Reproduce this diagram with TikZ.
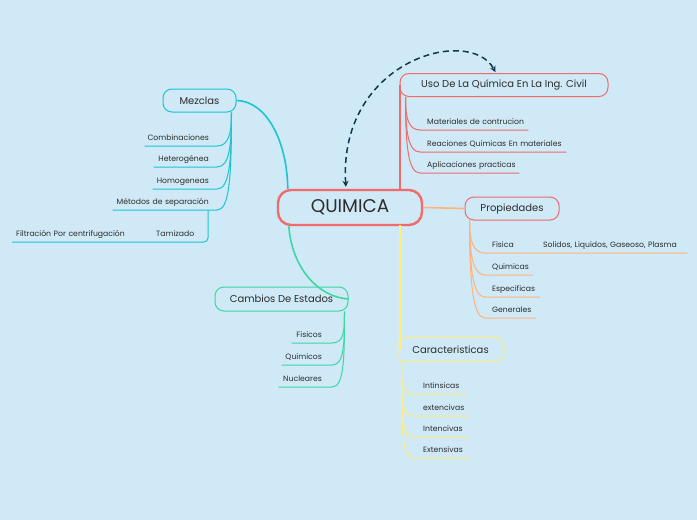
\documentclass[tikz,border=0pt]{standalone}
\usepackage{fontspec}
\setmainfont{Poppins}
\usetikzlibrary{arrows.meta}
\definecolor{bg}{RGB}{207,233,246}
\definecolor{cred}{RGB}{242,107,107}
\definecolor{ccyan}{RGB}{30,196,210}
\definecolor{cgreen}{RGB}{62,214,163}
\definecolor{corange}{RGB}{255,178,122}
\definecolor{cyellow}{RGB}{255,238,125}
\definecolor{navy}{RGB}{16,56,78}
\definecolor{ink}{RGB}{45,45,45}
\begin{document}
\begin{tikzpicture}[x=1pt,y=1pt,
 topic/.style={draw,line width=1pt,rounded corners=9pt,fill=bg,minimum height=23pt,inner sep=0pt,text=ink,font=\fontsize{10}{12}\selectfont},
 central/.style={draw=cred,line width=2.4pt,rounded corners=13pt,fill=bg,minimum width=144pt,minimum height=35pt,text=ink,font=\fontsize{18.4}{20}\selectfont},
 leafr/.style={anchor=south west,inner xsep=0pt,inner ysep=3.5pt,text depth=2pt,text height=5.5pt,align=left,text width=#1,text=ink,font=\fontsize{7.7}{9}\selectfont},
 leafl/.style={anchor=south east,inner xsep=0pt,inner ysep=3.5pt,text depth=2pt,text height=5.5pt,align=right,text width=#1,text=ink,font=\fontsize{7.7}{9}\selectfont},
 branch/.style={line width=1pt},
 mainline/.style={line width=1.6pt},
 goright/.style={to path={.. controls +(0,-#1) and +(-12,0) .. (\tikztotarget) \tikztonodes}},
 goleft/.style={to path={.. controls +(0,-#1) and +(12,0) .. (\tikztotarget) \tikztonodes}},
]
\fill[bg] (0,0) rectangle (697,-520);
\useasboundingbox (0,0) rectangle (697,-520);

% central and main topics
\node[central] (main) at (350,-207.5) {QUIMICA};
\node[topic,draw=ccyan,minimum width=73pt] (mez) at (199.5,-100.5) {Mezclas};
\node[topic,draw=cred,minimum width=208pt] (uso) at (504,-85) {Uso De La Química En La Ing. Civil};
\node[topic,draw=cred,minimum width=94pt] (prop) at (512,-208.5) {Propiedades};
\node[topic,draw=cyellow,minimum width=107pt,minimum height=24pt] (car) at (450.5,-349.5) {Caracteristicas};
\node[topic,draw=cgreen,minimum width=133pt,minimum height=24pt] (cam) at (281.5,-299) {Cambios De Estados};

% main connectors
\draw[ccyan,mainline] (mez.east) .. controls (266,-101) and (287,-140) .. ([xshift=11pt]main.north west);
\draw[cgreen,mainline] ([xshift=12pt]main.south west) .. controls (292,-268) and (318,-297) .. (cam.east);
\draw[cred,line width=1.8pt] ([xshift=0.5pt,yshift=-1pt]main.north -| uso.west) -- ([xshift=0.5pt]uso.west);
\draw[corange,mainline] (main.east) -- (prop.west);
\draw[cyellow,line width=2pt] ([xshift=3.5pt,yshift=1pt]main.south -| car.west) -- ([xshift=3.5pt]car.west);

% dashed relation
\draw[navy,line width=1.5pt,dash pattern=on 6pt off 4pt,shorten <=2pt,shorten >=1pt,
  {Stealth[length=6pt,width=6pt]}-{Stealth[length=6pt,width=6pt]}]
  ([xshift=-4pt]main.north) .. controls (338,-60) and (470,-25) .. ([xshift=-8pt]uso.north);

% Mezclas leaves
\node[leafl=72pt] (comb) at (217,-146) {Combinaciones\hspace*{8pt}\null};
\node[leafl=63pt] (het) at (217,-167) {Heterogénea\hspace*{8pt}\null};
\node[leafl=64pt] (hom) at (217,-189) {Homogeneas\hspace*{8pt}\null};
\node[leafl=104pt] (meth) at (217,-210) {Métodos de separación\hspace*{8pt}\null};
\node[leafr=192pt] (filt) at (12,-242) {\hspace*{4pt}\makebox[140pt][l]{Filtración Por centrifugación}Tamizado};
\draw[ccyan,branch] ([xshift=-5pt]mez.south east) to[goleft=20pt] (comb.south east) -- (comb.south west);
\draw[ccyan,branch] ([xshift=-5pt]mez.south east) to[goleft=35pt] (het.south east) -- (het.south west);
\draw[ccyan,branch] ([xshift=-5pt]mez.south east) to[goleft=52pt] (hom.south east) -- (hom.south west);
\draw[ccyan,branch] ([xshift=-5pt]mez.south east) to[goleft=68pt] (meth.south east) -- (meth.south west);
\draw[ccyan,branch,rounded corners=4pt] ([xshift=-9pt]meth.south east) |- (filt.south west);

% Uso leaves
\node[leafr=108pt] (mat) at (420,-130) {\hspace*{7pt}Materiales de contrucion};
\node[leafr=146pt] (rea) at (420,-152) {\hspace*{7pt}Reaciones Quimicas En materiales};
\node[leafr=99pt] (apl) at (420,-173) {\hspace*{7pt}Aplicaciones practicas};
\draw[cred,branch] ([xshift=6pt]uso.south west) to[goright=20pt] (mat.south west) -- (mat.south east);
\draw[cred,branch] ([xshift=6pt]uso.south west) to[goright=34pt] (rea.south west) -- (rea.south east);
\draw[cred,branch] ([xshift=6pt]uso.south west) to[goright=48pt] (apl.south west) -- (apl.south east);

% Propiedades leaves
\node[leafr=202pt] (fis) at (485,-253) {\hspace*{7pt}\makebox[51pt][l]{Fisica}Solidos, Liquidos, Gaseoso, Plasma};
\node[leafr=48pt] (qui) at (485,-275) {\hspace*{7pt}Quimicas};
\node[leafr=55pt] (esp) at (485,-297) {\hspace*{7pt}Especificas};
\node[leafr=51pt] (gen) at (485,-318) {\hspace*{7pt}Generales};
\draw[corange,branch] ([xshift=5pt]prop.south west) to[goright=20pt] (fis.south west) -- (fis.south east);
\draw[corange,branch] ([xshift=5pt]prop.south west) to[goright=34pt] (qui.south west) -- (qui.south east);
\draw[corange,branch] ([xshift=5pt]prop.south west) to[goright=48pt] (esp.south west) -- (esp.south east);
\draw[corange,branch] ([xshift=5pt]prop.south west) to[goright=62pt] (gen.south west) -- (gen.south east);

% Caracteristicas leaves
\node[leafr=53pt] (int1) at (413,-394) {\hspace*{10pt}Intinsicas};
\node[leafr=56pt] (ext1) at (413,-416) {\hspace*{10pt}extencivas};
\node[leafr=56pt] (int2) at (413,-437) {\hspace*{10pt}Intencivas};
\node[leafr=57pt] (ext2) at (413,-458) {\hspace*{10pt}Extensivas};
\draw[cyellow,branch] ([xshift=5pt]car.south west) to[goright=20pt] (int1.south west) -- (int1.south east);
\draw[cyellow,branch] ([xshift=5pt]car.south west) to[goright=34pt] (ext1.south west) -- (ext1.south east);
\draw[cyellow,branch] ([xshift=5pt]car.south west) to[goright=48pt] (int2.south west) -- (int2.south east);
\draw[cyellow,branch] ([xshift=5pt]car.south west) to[goright=62pt] (ext2.south west) -- (ext2.south east);

% Cambios leaves
\node[leafl=40pt] (fsc) at (332,-343) {Fisicos\hspace*{10pt}\null};
\node[leafl=50pt] (qmc) at (332,-365) {Quimicos\hspace*{10pt}\null};
\node[leafl=53pt] (nuc) at (332,-387) {Nucleares\hspace*{10pt}\null};
\draw[cgreen,branch] ([xshift=-4pt]cam.south east) to[goleft=20pt] (fsc.south east) -- (fsc.south west);
\draw[cgreen,branch] ([xshift=-4pt]cam.south east) to[goleft=34pt] (qmc.south east) -- (qmc.south west);
\draw[cgreen,branch] ([xshift=-4pt]cam.south east) to[goleft=48pt] (nuc.south east) -- (nuc.south west);
\end{tikzpicture}
\end{document}
